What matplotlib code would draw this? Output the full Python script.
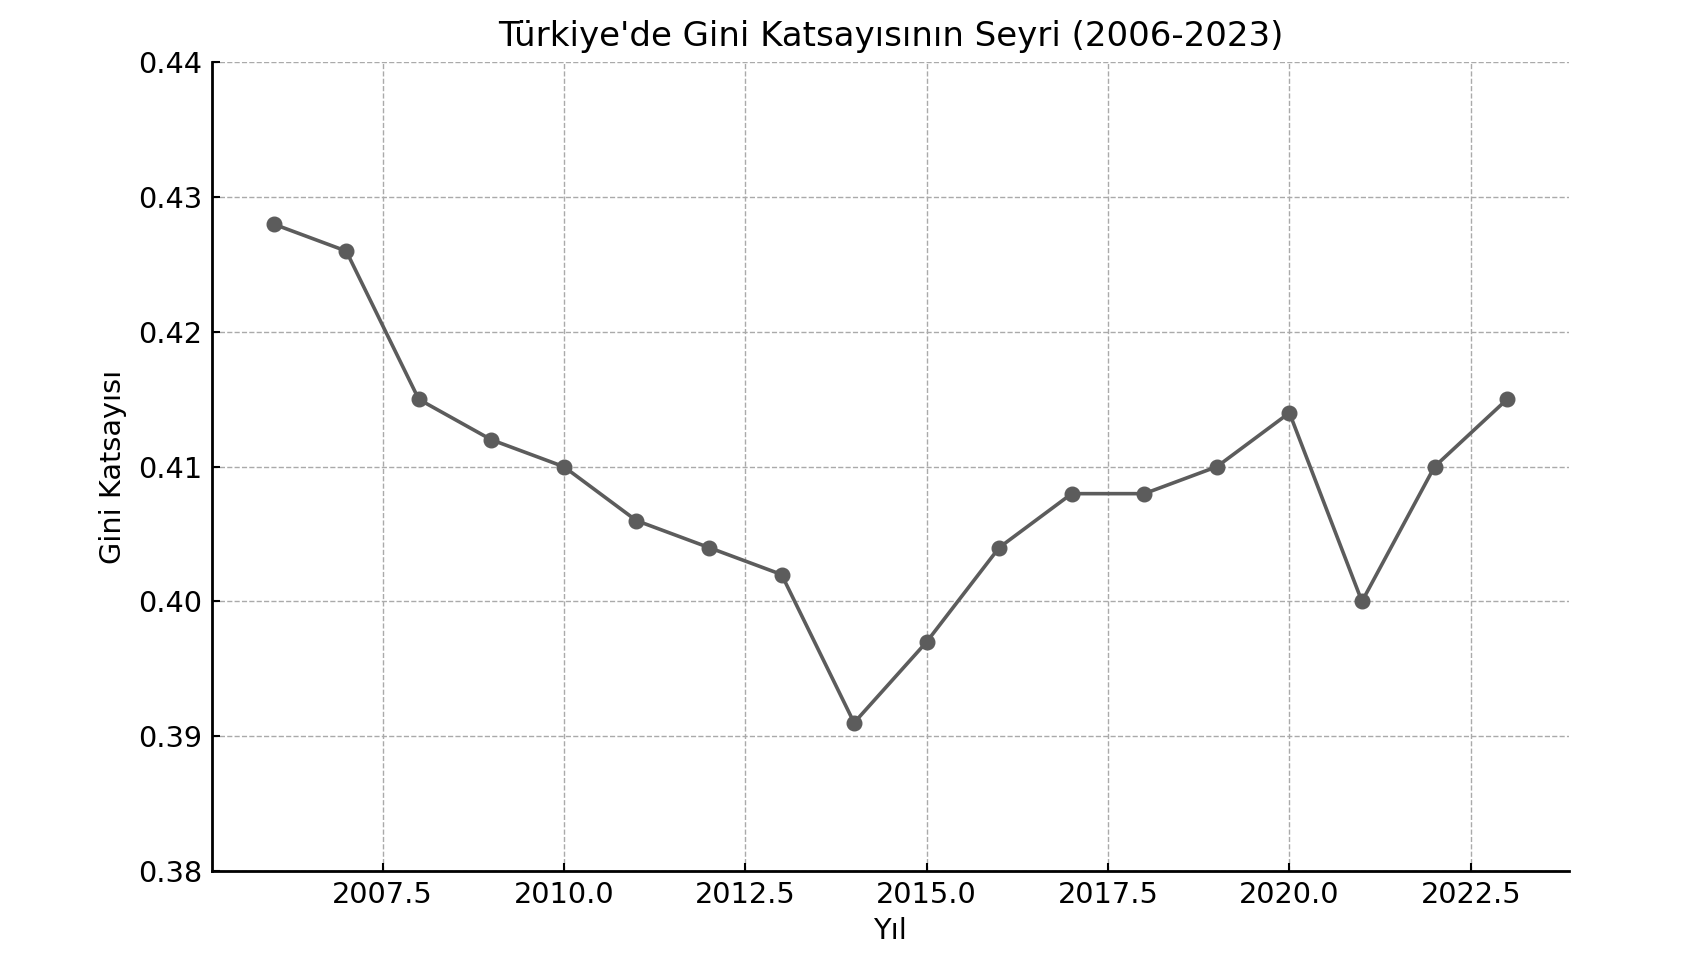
import matplotlib
matplotlib.use("Agg")
import matplotlib.pyplot as plt

years = [2006, 2007, 2008, 2009, 2010, 2011, 2012, 2013, 2014, 2015,
         2016, 2017, 2018, 2019, 2020, 2021, 2022, 2023]
gini = [0.428, 0.426, 0.415, 0.412, 0.410, 0.406, 0.404, 0.402, 0.391, 0.397,
        0.404, 0.408, 0.408, 0.410, 0.414, 0.400, 0.410, 0.415]
title = "Türkiye'de Gini Katsayısının Seyri (2006-2023)"
xlabel = "Yıl"
ylabel = "Gini Katsayısı"

plt.rcParams['font.family'] = ['DejaVu Sans']
fs = 20.7

fig = plt.figure(figsize=(17.07, 9.6), dpi=100)
ax = fig.add_axes([0.1242, 0.0927, 0.919 - 0.1242, 0.935 - 0.0927])

ax.plot(years, gini, color='#5c5c5c', linewidth=2.6, marker='o', markersize=10.5)
ax.set_ylim(0.38, 0.44)
ax.set_yticks([0.38, 0.39, 0.40, 0.41, 0.42, 0.43, 0.44])
ax.set_yticklabels(['0.38', '0.39', '0.40', '0.41', '0.42', '0.43', '0.44'])
ax.set_xticks([2007.5, 2010.0, 2012.5, 2015.0, 2017.5, 2020.0, 2022.5])
ax.set_xticklabels(['2007.5', '2010.0', '2012.5', '2015.0', '2017.5', '2020.0', '2022.5'])
ax.set_xlim(2005.15, 2023.85)

ax.grid(True, linestyle='--', color='#aaaaaa', linewidth=1.0)
ax.set_axisbelow(True)
for s in ['top', 'right']:
    ax.spines[s].set_visible(False)
for s in ['left', 'bottom']:
    ax.spines[s].set_linewidth(2.0)
ax.tick_params(direction='in', length=6, width=1.5, labelsize=fs, pad=7)

ax.set_title(title, fontsize=24.5, pad=12)
ax.set_xlabel(xlabel, fontsize=fs, labelpad=6)
ax.set_ylabel(ylabel, fontsize=fs, labelpad=8)

fig.savefig("out.png", dpi=100)
